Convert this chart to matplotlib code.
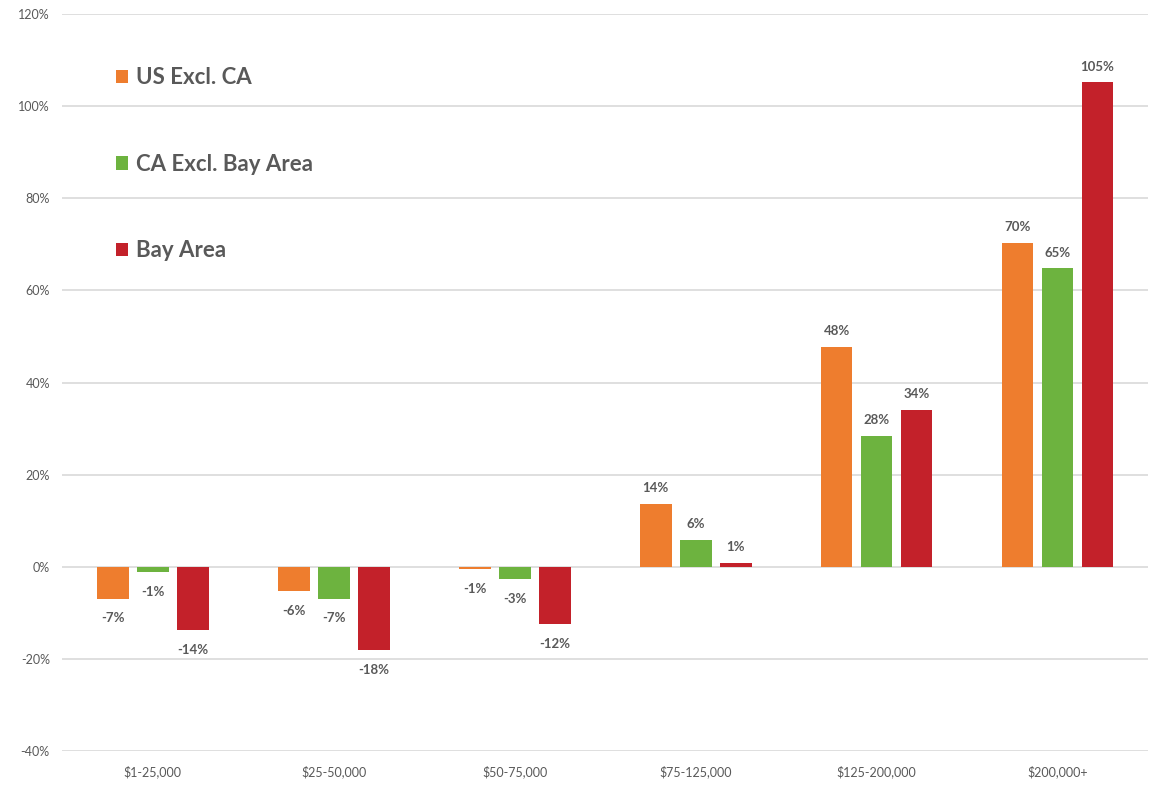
import numpy as np
import matplotlib
matplotlib.use("Agg")
import matplotlib.pyplot as plt
from matplotlib.patches import Patch

plt.rcParams['font.family'] = ['Lato', 'DejaVu Sans']

# data
categories = ["$1-25,000", "$25-50,000", "$50-75,000", "$75-125,000", "$125-200,000", "$200,000+"]
series_names = ["US Excl. CA", "CA Excl. Bay Area", "Bay Area"]
us_excl_ca = [-6.9, -5.3, -0.5, 13.6, 47.8, 70.3]
ca_excl_bay = [-1.2, -6.9, -2.7, 5.9, 28.4, 64.8]
bay_area = [-13.7, -18.1, -12.5, 0.8, 34.0, 105.2]
us_labels = ["-7%", "-6%", "-1%", "14%", "48%", "70%"]
ca_labels = ["-1%", "-7%", "-3%", "6%", "28%", "65%"]
bay_labels = ["-14%", "-18%", "-12%", "1%", "34%", "105%"]
yticks = [-40, -20, 0, 20, 40, 60, 80, 100, 120]

colors = ["#EE7D2E", "#6DB33F", "#C3212A"]
text_gray = "#595959"

fig = plt.figure(figsize=(11.55, 7.86), dpi=100)
ax = fig.add_axes([0.054, 0.0445, 0.94, 0.9375])

x = np.arange(len(categories))
w = 0.175
step = 0.221
all_vals = [us_excl_ca, ca_excl_bay, bay_area]
all_labels = [us_labels, ca_labels, bay_labels]

for i, (vals, labs) in enumerate(zip(all_vals, all_labels)):
    pos = x + (i - 1) * step
    ax.bar(pos, vals, width=w, color=colors[i], zorder=3)
    for px, v, lab in zip(pos, vals, labs):
        off = 7 if v >= 0 else -10
        ax.annotate(lab, (px, v), xytext=(0, off), textcoords="offset points",
                    ha="center", va="bottom" if v >= 0 else "top",
                    fontsize=9.5, color=text_gray, fontweight="bold")

ax.set_xlim(-0.5, len(categories) - 0.5)
ax.set_ylim(-40, 120)
ax.set_yticks(yticks)
ax.set_yticklabels([f"{t}%" for t in yticks])
ax.set_xticks(x)
ax.set_xticklabels(categories)
ax.tick_params(axis="both", length=0, labelsize=9, colors=text_gray)
ax.tick_params(axis="y", pad=9)
ax.tick_params(axis="x", pad=10)
ax.xaxis.set_ticks_position("none")
ax.grid(axis="y", color="#D9D9D9", linewidth=1.2, zorder=0)
for s in ax.spines.values():
    s.set_visible(False)

handles = [Patch(facecolor=c, edgecolor="none") for c in colors]
leg = ax.legend(handles, series_names, loc="upper left", bbox_to_anchor=(0.031, 0.955),
                frameon=False, handlelength=0.55, handleheight=0.55, handletextpad=0.35,
                labelspacing=2.95, prop={"size": 16, "weight": "bold"})
for t in leg.get_texts():
    t.set_color(text_gray)

fig.savefig("out.png", dpi=100)
